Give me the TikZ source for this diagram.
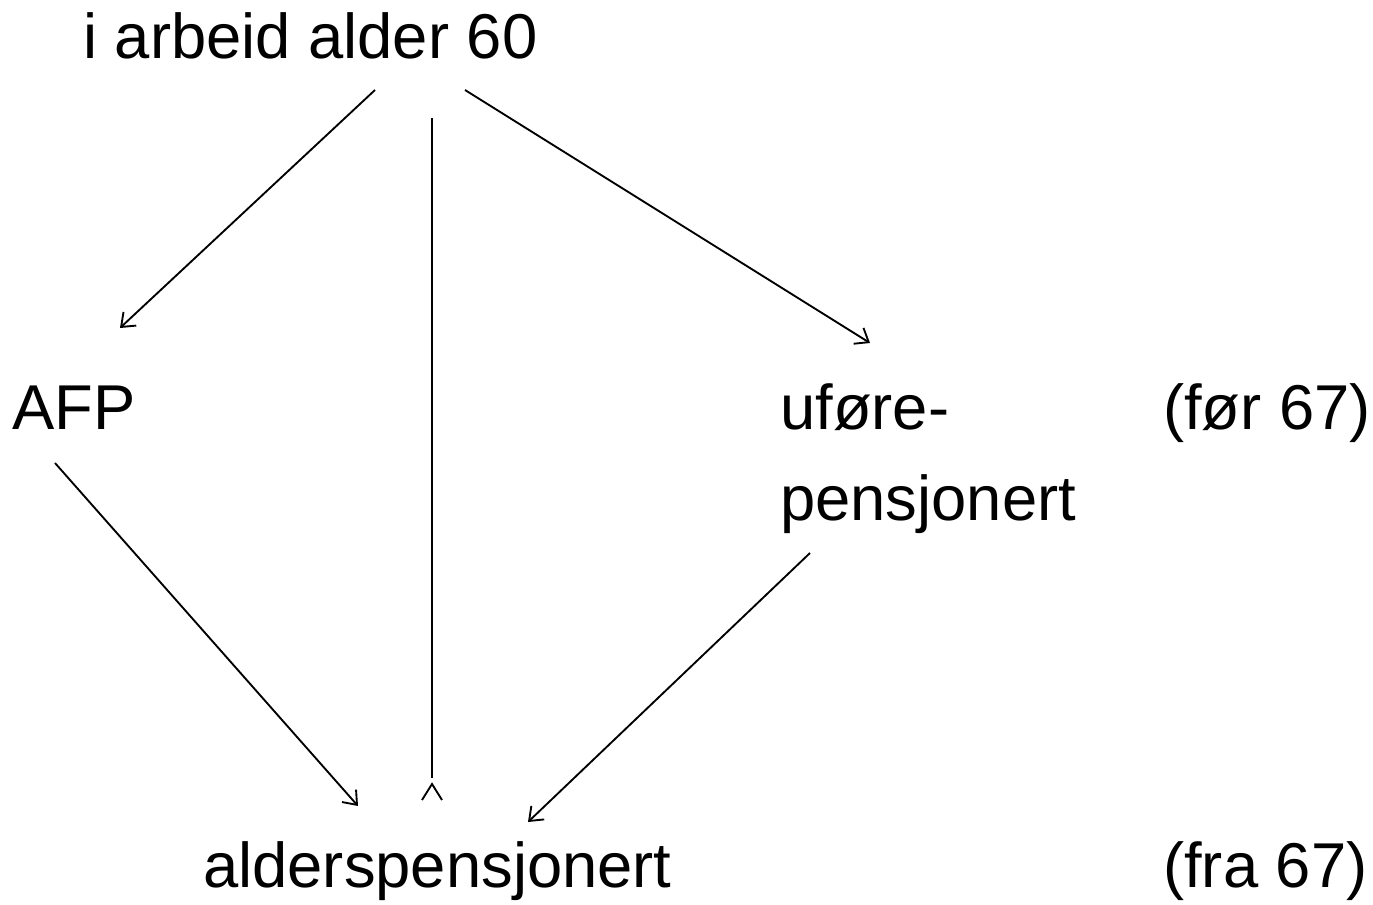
\documentclass[tikz,border=0pt]{standalone}
\usepackage{fontspec}
\setmainfont{Liberation Sans}
\usetikzlibrary{arrows.meta}
\begin{document}
\begin{tikzpicture}[x=0.75pt,y=-0.75pt,
  lbl/.style={anchor=base west,inner sep=0pt,font=\fontsize{47.5}{58}\selectfont},
  ln/.style={line width=1.4pt},
  conn/.style={ln,-{Straight Barb[length=9pt,width=14pt,line width=1.4pt]}}]
\useasboundingbox (0,0) rectangle (1373,905);
\node[lbl] (top) at (83,59) {i arbeid alder 60};
\node[lbl] (afp) at (12,429) {AFP};
\node[lbl] (ufo) at (780,429) {uføre-};
\node[lbl] (pen) at (780,520) {pensjonert};
\node[lbl] (for) at (1163,429) {(før 67)};
\node[lbl] (ald) at (203,887) {alderspensjonert};
\node[lbl] (fra) at (1163,887) {(fra 67)};
\coordinate (a1) at (375,90);
\coordinate (a2) at (120,328);
\coordinate (b1) at (432,118);
\coordinate (b2) at (432,778);
\coordinate (c1) at (465,90);
\coordinate (c2) at (870,343);
\coordinate (d1) at (55,463);
\coordinate (d2) at (358,806);
\coordinate (e1) at (810,553);
\coordinate (e2) at (528,822);
\coordinate (k1) at (422,800);
\coordinate (k2) at (432,784);
\coordinate (k3) at (442,800);
\draw[conn] (a1) -- (a2);
\draw[ln] (b1) -- (b2);
\draw[ln] (k1) -- (k2) -- (k3);
\draw[conn] (c1) -- (c2);
\draw[conn] (d1) -- (d2);
\draw[conn] (e1) -- (e2);
\end{tikzpicture}
\end{document}
